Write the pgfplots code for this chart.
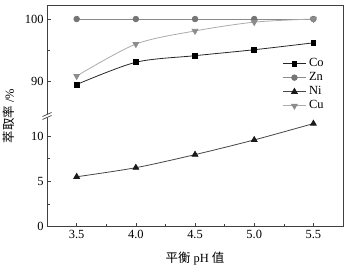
\documentclass[border=0pt]{standalone}
\usepackage{fontspec}
\setmainfont{Liberation Serif}
\newfontfamily\cjk{Noto Sans CJK SC}
\usepackage{pgfplots}
\pgfplotsset{compat=1.18}
\definecolor{colCo}{HTML}{000000}
\definecolor{lnCo}{HTML}{262626}
\definecolor{colZn}{HTML}{757575}
\definecolor{lnZn}{HTML}{8A8A8A}
\definecolor{colNi}{HTML}{1A1A1A}
\definecolor{lnNi}{HTML}{454545}
\definecolor{colCu}{HTML}{8C8C8C}
\definecolor{lnCu}{HTML}{ABABAB}
\begin{document}
\begin{tikzpicture}
\pgfplotsset{
 common/.style={
  scale only axis, width=296bp, height=110.7bp,
  xmin=3.25, xmax=5.75,
  axis line style={draw=none},
  tick align=inside, xtick pos=bottom, ytick pos=left,
  major tick length=4bp, minor tick length=2.5bp,
  tick style={color=black!75, line width=0.6pt},
  font=\fontsize{12.5}{14}\selectfont,
  /pgf/number format/assume math mode=true,
  clip=false,
  every axis plot/.append style={line width=0.8pt},
 },
 coSty/.style={color=lnCo, mark=square*, mark size=2.4bp, mark options={fill=colCo, draw=colCo}},
 znSty/.style={color=lnZn, mark=*, mark size=2.8bp, mark options={fill=colZn, draw=colZn}},
 niSty/.style={color=lnNi, mark=triangle*, mark size=3.3bp, mark options={fill=colNi, draw=colNi}},
 cuSty/.style={color=lnCu, mark=triangle*, mark size=3.3bp, mark options={fill=colCu, draw=colCu, rotate=180}},
}
\begin{axis}[common, name=bot,
  ymin=0, ymax=12.2,
  ytick={0,5,10}, minor ytick={2.5,7.5},
  xtick={3.5,4,4.5,5,5.5}, minor xtick={3.75,4.25,4.75,5.25},
  xticklabel style={/pgf/number format/.cd, fixed, fixed zerofill, precision=1},
  xlabel={{\cjk 平衡} pH {\cjk 值}},
  xlabel style={at={(axis description cs:0.5,-0.293)}, anchor=center},
]
\addplot[niSty, smooth] coordinates {(3.5,5.5) (4.0,6.5) (4.5,7.94) (5.0,9.56) (5.5,11.36)};
\end{axis}
\begin{axis}[common, name=top, at={(bot.north west)}, anchor=south west,
  ymin=84.53, ymax=102.19,
  ytick={90,100}, minor ytick={95},
  xtick=\empty,
  legend style={at={(axis description cs:0.795,0.536)}, anchor=north west,
    draw=none, fill=none, inner sep=0pt, row sep=0.7bp,
    font=\fontsize{12.5}{14}\selectfont,
    nodes={inner sep=1.2bp, text height=8.5bp, text depth=2.5bp},
    /tikz/every odd column/.append style={column sep=1.5bp}},
  legend cell align=left,
  legend image code/.code={\draw[mark repeat=2,mark phase=2] plot coordinates {(0bp,0bp)(11.5bp,0bp)(23bp,0bp)};},
]
\addplot[coSty, smooth] coordinates {(3.5,89.55) (4.0,93.1) (4.5,94.15) (5.0,95.1) (5.5,96.2)};
\addlegendentry{Co}
\addplot[znSty] coordinates {(3.5,100) (4.0,100) (4.5,100) (5.0,100) (5.5,100)};
\addlegendentry{Zn}
\addlegendimage{niSty}
\addlegendentry{Ni}
\addplot[cuSty, smooth] coordinates {(3.5,90.9) (4.0,96.0) (4.5,98.1) (5.0,99.5) (5.5,100)};
\addlegendentry{Cu}
\end{axis}
\draw[black!75, line width=0.7pt] (bot.south west) rectangle (top.north east);
\fill[white] ([xshift=-1.2bp,yshift=-2.2bp]bot.north west) rectangle ([xshift=1.2bp,yshift=2.2bp]bot.north west);
\draw[black!75, line width=0.7pt] ([xshift=-4.5bp,yshift=-3.5bp]bot.north west) -- ([xshift=4.5bp,yshift=0.5bp]bot.north west);
\draw[black!75, line width=0.7pt] ([xshift=-4.5bp,yshift=-0.5bp]bot.north west) -- ([xshift=4.5bp,yshift=3.5bp]bot.north west);
\node[rotate=90, font=\fontsize{12.5}{14}\selectfont] at ([xshift=-38bp]bot.north west) {{\cjk 萃取率} /\%};
\path[use as bounding box] ([xshift=-47bp,yshift=-42.3bp]bot.south west) rectangle ([xshift=6bp,yshift=5.3bp]top.north east);
\end{tikzpicture}
\end{document}
